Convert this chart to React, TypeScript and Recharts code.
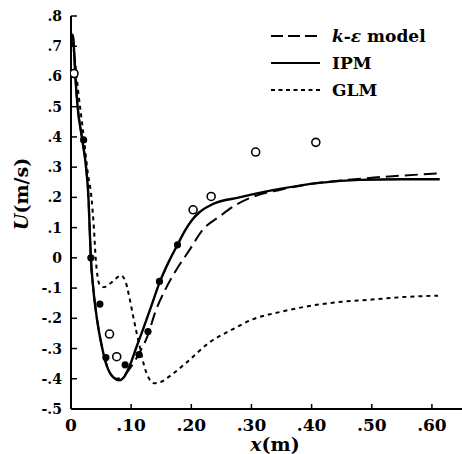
import React from "react";
import { ComposedChart, Line, Scatter, XAxis, YAxis } from "recharts";

// x (m), U (m/s)
const ipmX = [0, 0.003, 0.005, 0.007, 0.011, 0.018, 0.025, 0.029, 0.031, 0.033, 0.037, 0.043, 0.052, 0.06, 0.07, 0.08, 0.088, 0.097, 0.109, 0.12, 0.133, 0.148, 0.162, 0.177, 0.19, 0.2, 0.213, 0.236, 0.28, 0.347, 0.413, 0.48, 0.55, 0.613];
const ipmU = [0.74, 0.735, 0.69, 0.61, 0.5, 0.4, 0.3, 0.2, 0.1, 0.0, -0.1, -0.2, -0.3, -0.36, -0.395, -0.405, -0.395, -0.36, -0.294, -0.235, -0.162, -0.078, -0.015, 0.043, 0.092, 0.122, 0.15, 0.178, 0.2, 0.228, 0.248, 0.258, 0.26, 0.26];

const keX = [0, 0.003, 0.005, 0.007, 0.011, 0.018, 0.025, 0.029, 0.031, 0.033, 0.037, 0.043, 0.052, 0.06, 0.068, 0.076, 0.085, 0.1, 0.115, 0.127, 0.14, 0.158, 0.175, 0.197, 0.219, 0.247, 0.274, 0.3, 0.35, 0.4, 0.45, 0.5, 0.55, 0.618];
const keU = [0.74, 0.735, 0.69, 0.61, 0.5, 0.4, 0.3, 0.2, 0.1, 0.0, -0.1, -0.2, -0.3, -0.36, -0.39, -0.4, -0.395, -0.36, -0.31, -0.26, -0.18, -0.1, -0.04, 0.026, 0.093, 0.137, 0.175, 0.2, 0.226, 0.245, 0.256, 0.265, 0.272, 0.28];

const glmX = [0, 0.005, 0.012, 0.02, 0.028, 0.034, 0.038, 0.041, 0.044, 0.048, 0.055, 0.065, 0.075, 0.083, 0.09, 0.097, 0.103, 0.108, 0.115, 0.122, 0.13, 0.138, 0.15, 0.163, 0.191, 0.23, 0.27, 0.3, 0.35, 0.4, 0.45, 0.5, 0.55, 0.61];
const glmU = [0.74, 0.68, 0.55, 0.42, 0.28, 0.2, 0.1, 0.0, -0.06, -0.09, -0.097, -0.085, -0.068, -0.058, -0.075, -0.13, -0.19, -0.238, -0.3, -0.36, -0.4, -0.415, -0.41, -0.393, -0.348, -0.28, -0.235, -0.205, -0.178, -0.158, -0.145, -0.138, -0.13, -0.125];

const filledX = [0.021, 0.033, 0.048, 0.058, 0.09, 0.113, 0.128, 0.147, 0.177];
const filledU = [0.39, 0.0, -0.153, -0.33, -0.354, -0.32, -0.244, -0.078, 0.043];

const openX = [0.005, 0.064, 0.076, 0.203, 0.233, 0.307, 0.407];
const openU = [0.61, -0.252, -0.327, 0.159, 0.203, 0.35, 0.382];

const xTicks = [0, 0.1, 0.2, 0.3, 0.4, 0.5, 0.6];
const yTicks = [-0.5, -0.4, -0.3, -0.2, -0.1, 0, 0.1, 0.2, 0.3, 0.4, 0.5, 0.6, 0.7, 0.8];

const zip = (xs: number[], ys: number[]) => xs.map((x, i) => ({ x, y: ys[i] }));
const ipmData = zip(ipmX, ipmU);
const keData = zip(keX, keU);
const glmData = zip(glmX, glmU);
const filledData = zip(filledX, filledU);
const openData = zip(openX, openU);

const FONT = "'DejaVu Serif', serif";

const fmtY = (v: number) => {
  if (v === 0) return "0";
  const s = Math.abs(v).toFixed(1).replace(/^0/, "");
  return v < 0 ? "-" + s : s;
};
const fmtX = (v: number) => (v === 0 ? "0" : "." + Math.round(v * 100));

const OpenDot = (p: any) => (
  <circle cx={p.cx} cy={p.cy} r={4} fill="#fff" stroke="#000" strokeWidth={1.6} />
);
const FilledDot = (p: any) => <circle cx={p.cx} cy={p.cy} r={3.6} fill="#000" />;

export default function App() {
  return (
    <div style={{ position: "absolute", left: 0, top: 0, width: 462, height: 454, background: "#fff" }}>
      <ComposedChart width={462} height={454} margin={{ top: 16, right: 0, left: 11, bottom: 15 }}>
        <XAxis
          type="number"
          dataKey="x"
          domain={[0, 0.65]}
          ticks={xTicks}
          tickFormatter={fmtX}
          allowDataOverflow
          height={30}
          tickSize={-5}
          tickMargin={15}
          axisLine={{ stroke: "#000", strokeWidth: 2 }}
          tickLine={{ stroke: "#000", strokeWidth: 1.5 }}
          tick={{ fill: "#000", fontSize: 17, fontWeight: "bold", fontFamily: FONT }}
        />
        <YAxis
          type="number"
          dataKey="y"
          domain={[-0.5, 0.8]}
          ticks={yTicks}
          tickFormatter={fmtY}
          allowDataOverflow
          width={60}
          tickSize={-6}
          tickMargin={15}
          axisLine={{ stroke: "#000", strokeWidth: 2 }}
          tickLine={{ stroke: "#000", strokeWidth: 1.5 }}
          tick={{ fill: "#000", fontSize: 14, fontWeight: "bold", fontFamily: FONT }}
        />
        <Line data={glmData} dataKey="y" type="monotone" stroke="#000" strokeWidth={2} strokeDasharray="4 4" dot={false} isAnimationActive={false} />
        <Line data={keData} dataKey="y" type="monotone" stroke="#000" strokeWidth={2} strokeDasharray="13 6" dot={false} isAnimationActive={false} />
        <Line data={ipmData} dataKey="y" type="monotone" stroke="#000" strokeWidth={2.4} dot={false} isAnimationActive={false} />
        <Scatter data={filledData} dataKey="y" shape={FilledDot} isAnimationActive={false} />
        <Scatter data={openData} dataKey="y" shape={OpenDot} isAnimationActive={false} />
      </ComposedChart>
      <svg width={462} height={454} style={{ position: "absolute", left: 0, top: 0, pointerEvents: "none" }}>
        <g fontFamily={FONT} fontWeight="bold" fill="#000">
          <line x1={271} x2={320} y1={36} y2={36} stroke="#000" strokeWidth={2} strokeDasharray="12 5" />
          <text x={332} y={42} fontSize={17}>
            <tspan fontStyle="italic">k</tspan>
            <tspan>-</tspan>
            <tspan fontStyle="italic">ε</tspan>
            <tspan> model</tspan>
          </text>
          <line x1={271} x2={320} y1={63} y2={63} stroke="#000" strokeWidth={2.2} />
          <text x={332} y={69} fontSize={17}>IPM</text>
          <line x1={271} x2={320} y1={90} y2={90} stroke="#000" strokeWidth={2} strokeDasharray="4 3.5" />
          <text x={332} y={96} fontSize={17}>GLM</text>
          <text x={275} y={451} fontSize={19} textAnchor="middle">
            <tspan fontStyle="italic">x</tspan>
            <tspan>(m)</tspan>
          </text>
          <text x={28} y={194} fontSize={19} textAnchor="middle" transform="rotate(-90 28 194)">
            <tspan fontStyle="italic">U</tspan>
            <tspan>(m/s)</tspan>
          </text>
        </g>
      </svg>
    </div>
  );
}
